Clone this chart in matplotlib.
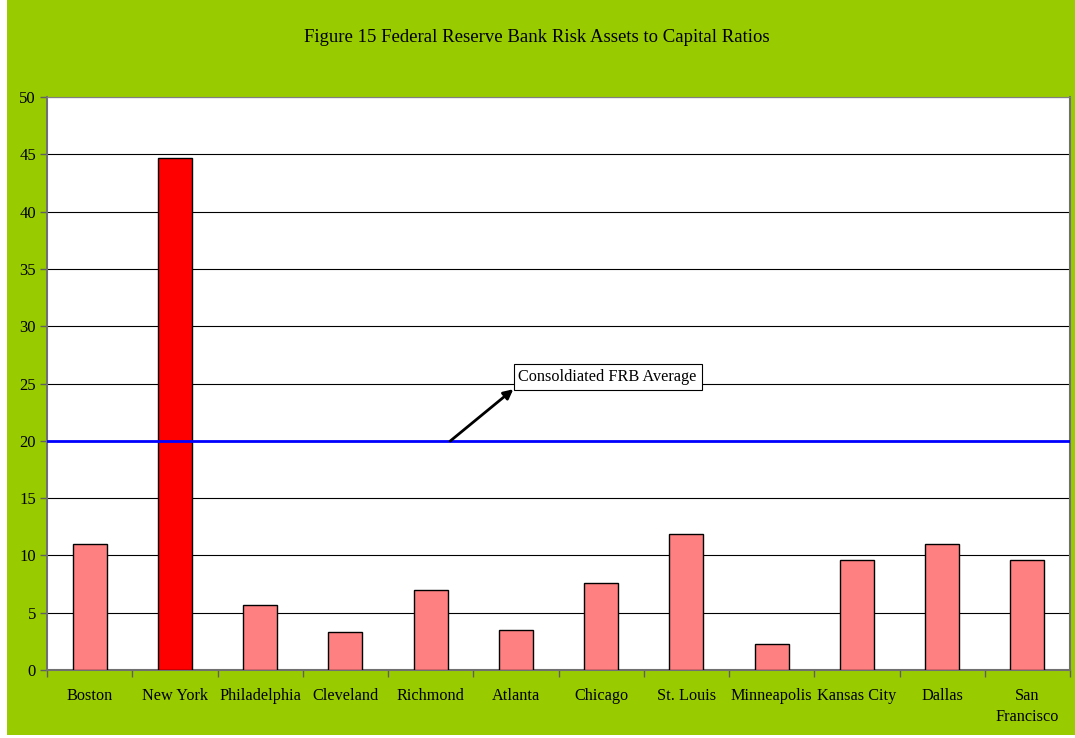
import numpy as np
import matplotlib
matplotlib.use('agg')
import matplotlib.pyplot as plt
from matplotlib.patches import Rectangle

banks = ['Boston', 'New York', 'Philadelphia', 'Cleveland', 'Richmond', 'Atlanta',
         'Chicago', 'St. Louis', 'Minneapolis', 'Kansas City', 'Dallas', 'San\nFrancisco']
ratios = [11.0, 44.7, 5.7, 3.3, 7.0, 3.5, 7.6, 11.9, 2.3, 9.6, 11.0, 9.6]
frb_average = 20.0

plt.rcParams['font.family'] = ['Liberation Serif', 'DejaVu Serif']

fig = plt.figure(figsize=(10.75, 7.38), dpi=100, facecolor='white')
fig.patches.append(Rectangle((7 / 1075, 3 / 738), 1, 1, transform=fig.transFigure,
                             facecolor='#99CC00', edgecolor='none', zorder=-10))
ax = fig.add_axes([47 / 1075, 68 / 738, 1023 / 1075, 573 / 738])
ax.set_facecolor('white')

x = np.arange(len(banks))
colors = ['#FF8080'] * len(banks)
colors[1] = '#FF0000'
ax.bar(x, ratios, width=0.4, color=colors, edgecolor='black', linewidth=1.0, zorder=3)

ax.axhline(frb_average, color='#0000FF', linewidth=2, zorder=4)

ax.set_xlim(-0.5, len(banks) - 0.5)
ax.set_ylim(0, 50)
ax.set_yticks(np.arange(0, 51, 5))
ax.yaxis.grid(True, color='black', linewidth=0.8, zorder=0)
ax.set_axisbelow(True)

ax.set_xticks(x)
ax.set_xticklabels(banks, fontsize=11.7, linespacing=1.45)
ax.tick_params(axis='x', length=0, pad=13)
ax.set_xticks(np.arange(-0.5, len(banks)), minor=True)
ax.tick_params(axis='x', which='minor', length=5, width=1, color='#606060')
ax.tick_params(axis='y', length=5, width=1, color='#606060', labelsize=12, pad=3)

for side in ['left', 'bottom', 'right']:
    ax.spines[side].set_color('#707070')
    ax.spines[side].set_linewidth(1.5)
ax.spines['top'].set_color('#808080')
ax.spines['top'].set_linewidth(0.8)

ax.text(5.03, 24.85, 'Consoldiated FRB Average', ha='left', va='bottom', fontsize=11.7,
        bbox=dict(boxstyle='square,pad=0.3', facecolor='white', edgecolor='black', linewidth=0.8),
        zorder=6)
ax.annotate('', xy=(4.97, 24.5), xytext=(4.23, 19.98),
            arrowprops=dict(arrowstyle='-|>', color='black', linewidth=2, mutation_scale=14,
                            shrinkA=0, shrinkB=0),
            zorder=6)

fig.text(537 / 1075, 1 - 38 / 738, 'Figure 15 Federal Reserve Bank Risk Assets to Capital Ratios',
         ha='center', va='center', fontsize=13.5)

plt.savefig('out.png', dpi=100, facecolor=fig.get_facecolor())
plt.close()
